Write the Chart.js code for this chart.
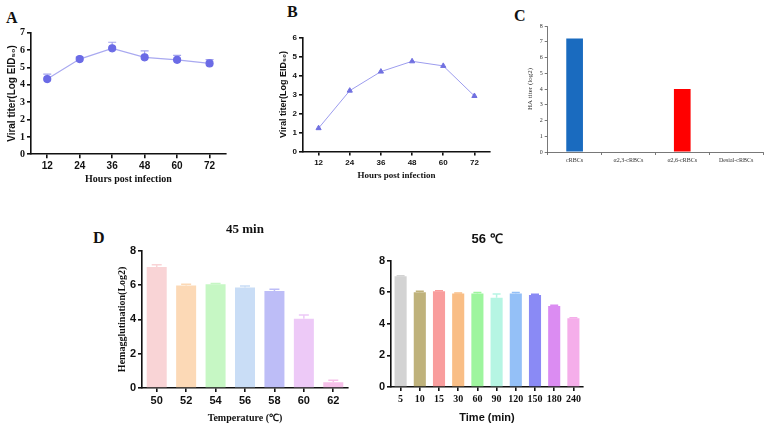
<!DOCTYPE html>
<html>
<head>
<meta charset="utf-8">
<script src="https://cdn.jsdelivr.net/npm/chart.js@4/dist/chart.umd.min.js"></script>
<style>
  html, body { margin: 0; padding: 0; width: 767px; height: 429px; overflow: hidden; background: #fff; }
  canvas { position: absolute; }
  .tag { position: absolute; font: bold 16px "Liberation Serif", serif; color: #111; }
</style>
</head>
<body>
<div class="tag" style="left:6px;top:9px">A</div>
<div class="tag" style="left:287px;top:3px">B</div>
<div class="tag" style="left:514px;top:7px">C</div>
<div class="tag" style="left:93px;top:229px">D</div>

<canvas id="cA" width="229" height="169" style="left:2px;top:20px"></canvas>
<canvas id="cB" width="221" height="165" style="left:274px;top:20px"></canvas>
<canvas id="cC" width="243" height="157" style="left:522px;top:15px"></canvas>
<canvas id="cD1" width="239" height="206" style="left:112px;top:222px"></canvas>
<canvas id="cD2" width="220" height="197" style="left:366px;top:232px"></canvas>

<script>
  // panel A
  const hoursA = ["12", "24", "36", "48", "60", "72"];
  const titerA = [4.33, 5.48, 6.1, 5.58, 5.44, 5.23];
  const sdA = [0.28, 0.12, 0.35, 0.37, 0.25, 0.22];

  // panel B
  const hoursB = ["12", "24", "36", "48", "60", "72"];
  const titerB = [1.23, 3.2, 4.2, 4.74, 4.5, 2.92];

  // panel C
  const cellsC = ["cRBCs", "α2,3-cRBCs", "α2,6-cRBCs", "Desial-cRBCs"];
  const haC = [7.2, 0, 4.0, 0];

  // panel D, 45 min
  const tempsD = ["50", "52", "54", "56", "58", "60", "62"];
  const hemaTemp = [7.05, 5.97, 6.05, 5.85, 5.65, 4.03, 0.33];
  const sdTemp = [0.13, 0.07, 0.04, 0.09, 0.1, 0.22, 0.12];

  // panel D, 56 ℃
  const timesD = ["5", "10", "15", "30", "60", "90", "120", "150", "180", "240"];
  const hemaTime = [7.0, 6.0, 6.05, 5.92, 5.92, 5.65, 5.92, 5.82, 5.13, 4.35];
  const sdTime = [0.04, 0.05, 0.04, 0.03, 0.06, 0.23, 0.05, 0.05, 0.05, 0.04];

  const colTemp = ["#F9D4D6", "#FCD9B6", "#C6F7C4", "#C9DDF6", "#BDBDF7", "#EDC9F7", "#F6C0E9"];
  const colTime = ["#D3D3D3", "#BFB27B", "#F99D9D", "#F9BE86", "#9EF59E", "#B6F5E3", "#94C0F7", "#8A8AF5", "#DB8CF2", "#F5AEEA"];

  const SANS = "'Liberation Sans', Arial, sans-serif";
  const SERIF = "'Liberation Serif', 'Times New Roman', serif";
  const INK = "#111";

  // upper error whiskers (mean + sd), drawn under the marks
  const errorBars = {
    id: "errorBars",
    beforeDatasetsDraw(chart, args, opts) {
      if (!opts.sd) return;
      const ctx = chart.ctx;
      const ys = chart.scales.y;
      const data = chart.data.datasets[0].data;
      ctx.save();
      ctx.lineWidth = opts.width || 1.2;
      chart.getDatasetMeta(0).data.forEach((el, i) => {
        const y0 = ys.getPixelForValue(data[i]);
        const y1 = ys.getPixelForValue(data[i] + opts.sd[i]);
        ctx.strokeStyle = Array.isArray(opts.color) ? opts.color[i] : opts.color;
        ctx.beginPath();
        ctx.moveTo(el.x, y0);
        ctx.lineTo(el.x, y1);
        ctx.moveTo(el.x - opts.cap, y1);
        ctx.lineTo(el.x + opts.cap, y1);
        ctx.stroke();
      });
      ctx.restore();
    },
  };

  function xAxis(h, tickFont, title, titleFont, gridOffset, lw) {
    return {
      offset: true,
      grid: { display: true, drawOnChartArea: false, drawTicks: true, tickLength: 4, color: INK, lineWidth: lw, offset: gridOffset },
      border: { color: INK, width: lw },
      ticks: { font: tickFont, color: INK, padding: 2, maxRotation: 0, autoSkip: false },
      title: title ? { display: true, text: title, font: titleFont, color: INK, padding: { top: 0, bottom: 4 } } : { display: false },
      afterFit(s) { s.height = h; },
    };
  }

  function yAxis(w, max, tickFont, title, titleFont, lw) {
    return {
      min: 0, max: max,
      grid: { display: true, drawOnChartArea: false, drawTicks: true, tickLength: 4, color: INK, lineWidth: lw },
      border: { color: INK, width: lw },
      ticks: { stepSize: max === 8 ? (w > 27 ? 2 : 1) : 1, font: tickFont, color: INK, padding: 2 },
      title: title ? { display: true, text: title, font: titleFont, color: INK, padding: { top: 4, bottom: 0 } } : { display: false },
      afterFit(s) { s.width = w; },
    };
  }

  function base(padding) {
    return {
      responsive: false,
      animation: false,
      layout: { padding: padding },
      plugins: { legend: { display: false }, tooltip: { enabled: false } },
    };
  }

  // A
  const optA = base({ top: 12.7, right: 2, left: 0, bottom: 0 });
  optA.scales = {
    x: xAxis(34.7, { family: SANS, size: 10, weight: "bold" }, "Hours post infection", { family: SERIF, size: 10, weight: "bold" }, false, 1.6),
    y: yAxis(29, 7, { family: SERIF, size: 10, weight: "bold" }, "Viral titer(Log EID₅₀)", { family: SANS, size: 10, weight: "bold" }, 1.6),
  };
  optA.plugins.errorBars = { sd: sdA, color: "#A4A4EE", cap: 4, width: 1.2 };
  new Chart(document.getElementById("cA"), {
    type: "line",
    data: { labels: hoursA, datasets: [{ data: titerA, borderColor: "#A9A9F0", borderWidth: 1.2, pointRadius: 3.5, pointBackgroundColor: "#6B6BE6", pointBorderColor: "#6B6BE6", tension: 0 }] },
    options: optA,
    plugins: [errorBars],
  });

  // B
  const optB = base({ top: 17.3, right: 2, left: 0, bottom: 0 });
  optB.scales = {
    x: xAxis(33.4, { family: SANS, size: 8, weight: "bold" }, "Hours post infection", { family: SERIF, size: 9, weight: "bold" }, false, 1.6),
    y: yAxis(29, 6, { family: SANS, size: 8, weight: "bold" }, "Viral titer(Log EID₅₀)", { family: SANS, size: 9, weight: "bold" }, 1.6),
  };
  new Chart(document.getElementById("cB"), {
    type: "line",
    data: { labels: hoursB, datasets: [{ data: titerB, borderColor: "#9C9CEE", borderWidth: 1, pointStyle: "triangle", pointRadius: 3, pointBackgroundColor: "#7070E0", pointBorderColor: "#7070E0", tension: 0 }] },
    options: optB,
  });

  // C
  const optC = base({ top: 11, right: 2, left: 0, bottom: 0 });
  optC.scales = {
    x: xAxis(20, { family: SERIF, size: 6 }, null, null, true, 0.8),
    y: yAxis(25.7, 8, { family: SERIF, size: 6 }, "HA titer (log2)", { family: SERIF, size: 7 }, 0.8),
  };
  optC.scales.x.grid.color = "#555";
  optC.scales.x.border.color = "#555";
  optC.scales.x.grid.tickLength = 3;
  optC.scales.y.grid.color = "#555";
  optC.scales.y.border.color = "#555";
  optC.scales.y.grid.tickLength = 3;
  optC.scales.x.ticks.color = "#333";
  optC.scales.y.ticks.color = "#333";
  optC.scales.y.title.color = "#333";
  new Chart(document.getElementById("cC"), {
    type: "bar",
    data: { labels: cellsC, datasets: [{ data: haC, backgroundColor: ["#1A6BBF", "#1A6BBF", "#FF0000", "#FF0000"], barPercentage: 0.31, categoryPercentage: 1 }] },
    options: optC,
  });

  // D, 45 min
  const optD1 = base({ top: 0, right: 3, left: 0, bottom: 0 });
  optD1.plugins.title = { display: true, text: "45 min", fullSize: false, font: { family: SERIF, size: 13, weight: "bold" }, color: INK, padding: { top: 0, bottom: 13.1 } };
  optD1.scales = {
    x: xAxis(40, { family: SANS, size: 11, weight: "bold" }, "Temperature (℃)", { family: SERIF, size: 10, weight: "bold" }, false, 1.6),
    y: yAxis(30, 8, { family: SANS, size: 11, weight: "bold" }, "Hemagglutination(Log2)", { family: SERIF, size: 10, weight: "bold" }, 1.6),
  };
  optD1.plugins.errorBars = { sd: sdTemp, color: colTemp, cap: 5, width: 1.5 };
  new Chart(document.getElementById("cD1"), {
    type: "bar",
    data: { labels: tempsD, datasets: [{ data: hemaTemp, backgroundColor: colTemp, barPercentage: 0.68, categoryPercentage: 1 }] },
    options: optD1,
    plugins: [errorBars],
  });

  // D, 56 ℃
  const optD2 = base({ top: 0, right: 3, left: 0, bottom: 0 });
  optD2.plugins.title = { display: true, text: "56 ℃", fullSize: false, font: { family: SANS, size: 13, weight: "bold" }, color: INK, padding: { top: 0, bottom: 12.9 } };
  optD2.scales = {
    x: xAxis(41.9, { family: SERIF, size: 10, weight: "bold" }, "Time (min)", { family: SANS, size: 11, weight: "bold" }, false, 1.6),
    y: yAxis(25, 8, { family: SANS, size: 11, weight: "bold" }, null, null, 1.6),
  };
  optD2.scales.y.ticks.stepSize = 2;
  optD2.plugins.errorBars = { sd: sdTime, color: colTime, cap: 4, width: 1.5 };
  new Chart(document.getElementById("cD2"), {
    type: "bar",
    data: { labels: timesD, datasets: [{ data: hemaTime, backgroundColor: colTime, barPercentage: 0.63, categoryPercentage: 1 }] },
    options: optD2,
    plugins: [errorBars],
  });
</script>
</body>
</html>
